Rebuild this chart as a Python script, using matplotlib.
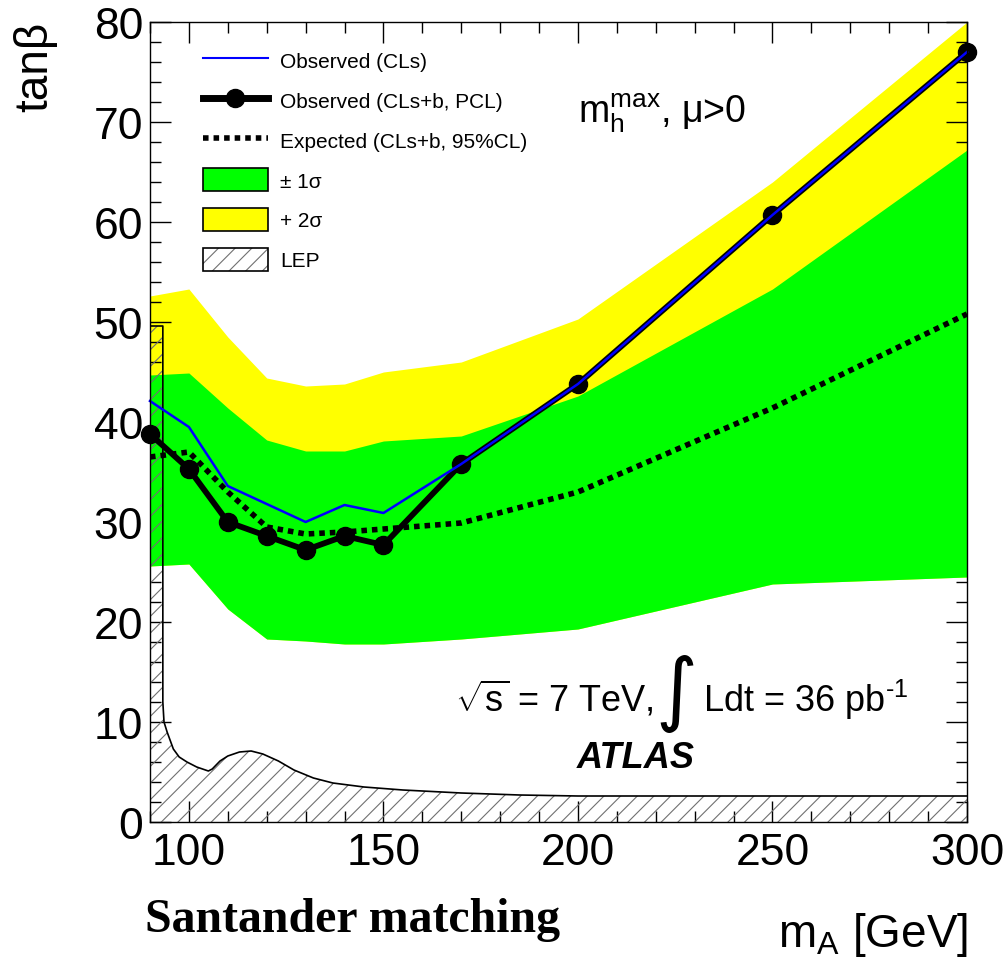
import matplotlib
matplotlib.use("Agg")
import matplotlib.pyplot as plt
from matplotlib.lines import Line2D
from matplotlib.patches import Patch
from matplotlib.legend_handler import HandlerTuple
from matplotlib.ticker import MultipleLocator

plt.rcParams['font.family'] = ['Liberation Sans', 'DejaVu Sans']
plt.rcParams['mathtext.fontset'] = 'custom'
plt.rcParams['mathtext.rm'] = 'Liberation Sans'
plt.rcParams['mathtext.it'] = 'Liberation Sans:italic'
plt.rcParams['mathtext.bf'] = 'Liberation Sans:bold'
plt.rcParams['hatch.linewidth'] = 0.8

# ---- data ----
mass = [90, 100, 110, 120, 130, 140, 150, 170, 200, 250, 300]
obs_clsb = [38.8, 35.3, 30.0, 28.6, 27.2, 28.6, 27.7, 35.8, 43.8, 60.7, 77.0]
obs_cls = [42.1, 39.5, 33.6, 31.8, 30.0, 31.7, 30.9, 35.8, 43.8, 60.7, 77.0]
expected = [36.5, 37.0, 33.0, 29.5, 28.8, 29.0, 29.3, 29.9, 33.0, 41.4, 50.8]
sig1_up = [44.7, 44.9, 41.4, 38.2, 37.1, 37.1, 38.1, 38.6, 42.6, 53.3, 67.2]
sig1_dn = [25.6, 25.8, 21.3, 18.3, 18.1, 17.8, 17.8, 18.3, 19.3, 23.8, 24.5]
sig2_up = [52.6, 53.3, 48.5, 44.4, 43.6, 43.8, 45.0, 46.0, 50.3, 64.0, 80.0]

lep_x = [90, 93.3, 93.3, 93.6, 94.4, 96, 97.5, 99.5, 102, 105, 106, 108, 110, 113,
         116, 119, 123, 127, 132, 137, 145, 155, 170, 185, 200, 300]
lep_y = [49.6, 49.6, 12.0, 10.0, 9.0, 7.3, 6.5, 6.0, 5.5, 5.1, 5.3, 6.1, 6.6, 7.0,
         7.1, 6.8, 6.1, 5.2, 4.4, 3.9, 3.5, 3.2, 2.9, 2.7, 2.6, 2.6]

legend_labels = ['Observed (CLs)', 'Observed (CLs+b, PCL)', 'Expected (CLs+b, 95%CL)',
                 '± 1σ', '+ 2σ', 'LEP']

# ---- figure ----
fig = plt.figure(figsize=(10.08, 9.62), dpi=100)
ax = fig.add_axes([150/1008, 1-823/962, 817/1008, 800/962])
ax.set_xlim(90, 300)
ax.set_ylim(0, 80)

ax.fill_between(mass, sig1_dn, sig2_up, color='#FFFF00', lw=0, zorder=1)
ax.fill_between(mass, sig1_dn, sig1_up, color='#00FF00', lw=0, zorder=2)

poly_x = [90] + lep_x + [300]
poly_y = [0] + lep_y + [0]
ax.fill(poly_x, poly_y, facecolor='none', edgecolor='#707070', hatch='//', lw=0, zorder=3)
ax.plot(lep_x, lep_y, color='black', lw=1.2, zorder=3.5)

ax.plot(mass, expected, color='black', lw=4, linestyle=(0, (1, 0.9)),
        dash_capstyle='butt', zorder=4)
ax.plot(mass, obs_clsb, color='black', lw=4.2, marker='o', ms=13, zorder=5, clip_on=False)
ax.plot(mass, obs_cls, color='#0000FF', lw=1.8, zorder=6, clip_on=False)

# ---- axes styling ----
for s in ax.spines.values():
    s.set_linewidth(1.0)
    s.set_zorder(10)
ax.xaxis.set_major_locator(MultipleLocator(50))
ax.xaxis.set_minor_locator(MultipleLocator(10))
ax.yaxis.set_major_locator(MultipleLocator(10))
ax.yaxis.set_minor_locator(MultipleLocator(2))
ax.tick_params(which='both', direction='in', top=True, right=True, width=1.0, zorder=10)
ax.tick_params(which='major', length=15)
ax.tick_params(which='minor', length=8)
ax.tick_params(axis='both', labelsize=32)
ax.tick_params(axis='x', pad=7)
ax.tick_params(axis='y', pad=5)

fig.text(35/1008, 1-22/962, 'tanβ', rotation=90, ha='center', va='top', fontsize=33)
fig.text(968/1008, 1-947/962, r'm$_{\mathregular{A}}$ [GeV]', ha='right', va='baseline',
         fontsize=33)
fig.text(145/1008, 1-932/962, 'Santander matching', ha='left', va='baseline',
         fontsize=34.5, fontweight='bold', family=['Liberation Serif', 'DejaVu Serif'])

# ---- annotations ----
ax.text(200, 70.0, r'$\mathregular{m_h^{max}}$, μ>0', fontsize=27, va='baseline', ha='left')
ax.text(168.4, 11.1, r'$\sqrt{\mathregular{s}}$ = 7 TeV,', fontsize=26, va='baseline', ha='left')
ax.text(225.3, 12.9, '∫', fontsize=58, va='center', ha='center', family=['DejaVu Sans'])
ax.text(232.2, 11.1, r'Ldt = 36 pb$^{\mathregular{\text{-}1}}$', fontsize=26,
        va='baseline', ha='left')
ax.text(199.8, 5.5, 'ATLAS', fontsize=26, fontweight='bold', style='italic',
        va='baseline', ha='left')

# ---- legend ----
h_cls = Line2D([], [], color='#0000FF', lw=1.5)
h_clsb = Line2D([], [], color='black', lw=5, marker='o', ms=13)
h_exp = Line2D([], [], color='black', lw=4, linestyle=(0, (1, 0.9)), dash_capstyle='butt')
h_g = Patch(facecolor='#00FF00', edgecolor='black', lw=1.2)
h_y = Patch(facecolor='#FFFF00', edgecolor='black', lw=1.2)
h_lep = (Patch(facecolor='white', edgecolor='#707070', hatch='//', lw=0),
         Patch(facecolor='none', edgecolor='black', lw=1.2))
leg = ax.legend([h_cls, h_clsb, h_exp, h_g, h_y, h_lep], legend_labels,
                handler_map={tuple: HandlerTuple(ndivide=1)},
                loc='upper left', bbox_to_anchor=((203-150)/817, (823-50)/800),
                frameon=False, fontsize=15, handlelength=3.1, handleheight=1.3,
                handletextpad=0.6, labelspacing=0.82, borderpad=0, borderaxespad=0,
                numpoints=1)
leg.set_zorder(20)

fig.savefig('out.png', dpi=100)
